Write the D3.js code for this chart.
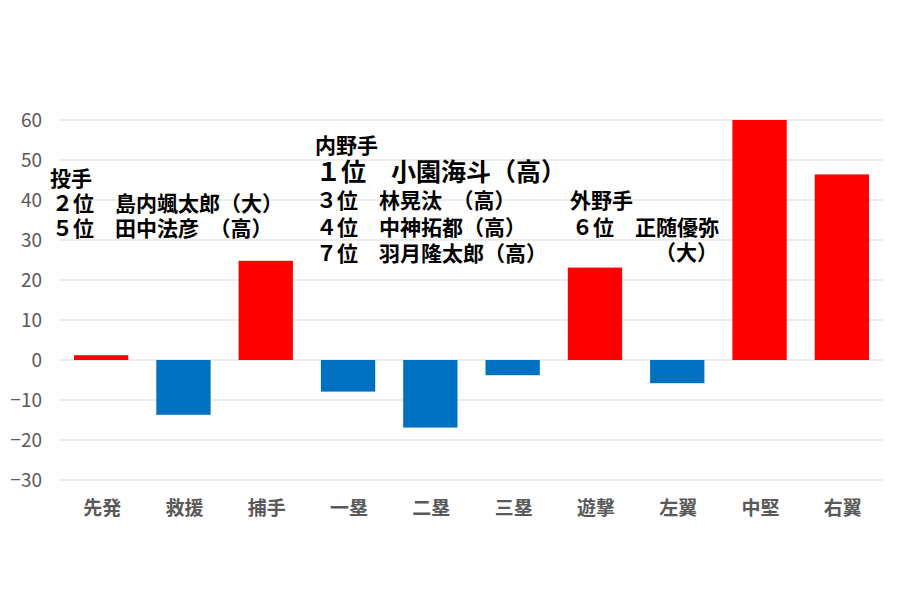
<!DOCTYPE html>
<html><head><meta charset="utf-8">
<script src="https://cdn.jsdelivr.net/npm/d3@7"></script>
<style>
html,body{margin:0;padding:0;background:#fff;}
svg{display:block;font-family:"Noto Sans CJK JP","Noto Sans",sans-serif;}
</style></head>
<body>
<svg id="chart" width="900" height="600"></svg>
<script>
const categories = ["先発","救援","捕手","一塁","二塁","三塁","遊撃","左翼","中堅","右翼"];
const values = [1.2, -13.7, 24.8, -7.9, -16.9, -3.8, 23.1, -5.8, 60, 46.4];
const yTicks = [-30, -20, -10, 0, 10, 20, 30, 40, 50, 60];
const pitcherNotes = ["投手", "２位　島内颯太郎（大）", "５位　田中法彦　（高）"];
const infieldNotes = ["内野手", "１位　小園海斗（高）", "３位　林晃汰　（高）", "４位　中神拓都（高）", "７位　羽月隆太郎（高）"];
const outfieldNotes = ["外野手", "６位　正随優弥", "（大）"];

const svg = d3.select("#chart");
const x = d3.scaleBand().domain(categories).range([60, 883]).paddingInner(0.34).paddingOuter(0.17);
const y = d3.scaleLinear().domain([-30, 60]).range([480, 120]);

// gridlines
svg.append("g").selectAll("line").data(yTicks).join("line")
  .attr("x1", 60).attr("x2", 883)
  .attr("y1", d => y(d)).attr("y2", d => y(d))
  .attr("stroke", "#d9d9d9").attr("stroke-width", 1);

// y axis labels
const yAxis = svg.append("g").attr("transform", "translate(42,0)")
  .call(d3.axisLeft(y).tickValues(yTicks).tickSize(0).tickPadding(0).tickFormat(d3.format("d")));
yAxis.select(".domain").remove();
yAxis.selectAll("text").attr("fill", "#595959").attr("font-size", 19)
  .attr("font-family", "'Noto Sans CJK JP',sans-serif").attr("dy", "0.36em");

// bars
svg.append("g").selectAll("rect").data(values).join("rect")
  .attr("x", (d, i) => x(categories[i]))
  .attr("width", x.bandwidth())
  .attr("y", d => y(Math.max(0, d)))
  .attr("height", d => Math.abs(y(d) - y(0)))
  .attr("fill", d => d >= 0 ? "#ff0000" : "#0070c0");

// x axis labels
const xAxis = svg.append("g").attr("transform", "translate(1,515)")
  .call(d3.axisBottom(x).tickSize(0).tickPadding(0));
xAxis.select(".domain").remove();
xAxis.selectAll("text").attr("fill", "#595959").attr("font-size", 19).attr("font-weight", "bold")
  .attr("font-family", "'Noto Sans CJK JP',sans-serif").attr("dy", 0);

// annotations: one text block per group, lines as tspans
function block(lines, specs) {
  const t = svg.append("text").attr("font-weight", "bold").attr("fill", "#000")
    .attr("font-family", "'Noto Sans CJK JP',sans-serif");
  lines.forEach((s, i) => {
    t.append("tspan").attr("x", specs[i][0]).attr("y", specs[i][1])
      .attr("font-size", specs[i][2]).text(s);
  });
}
block(pitcherNotes, [[50, 186, 21], [52, 211, 21], [52, 236, 21]]);
block(infieldNotes, [[315, 153, 21], [316, 181, 25], [316, 208, 21], [316, 235, 21], [316, 261, 21]]);
block(outfieldNotes, [[570, 208, 21], [572, 235, 21], [655, 260, 21]]);
</script>
</body></html>
